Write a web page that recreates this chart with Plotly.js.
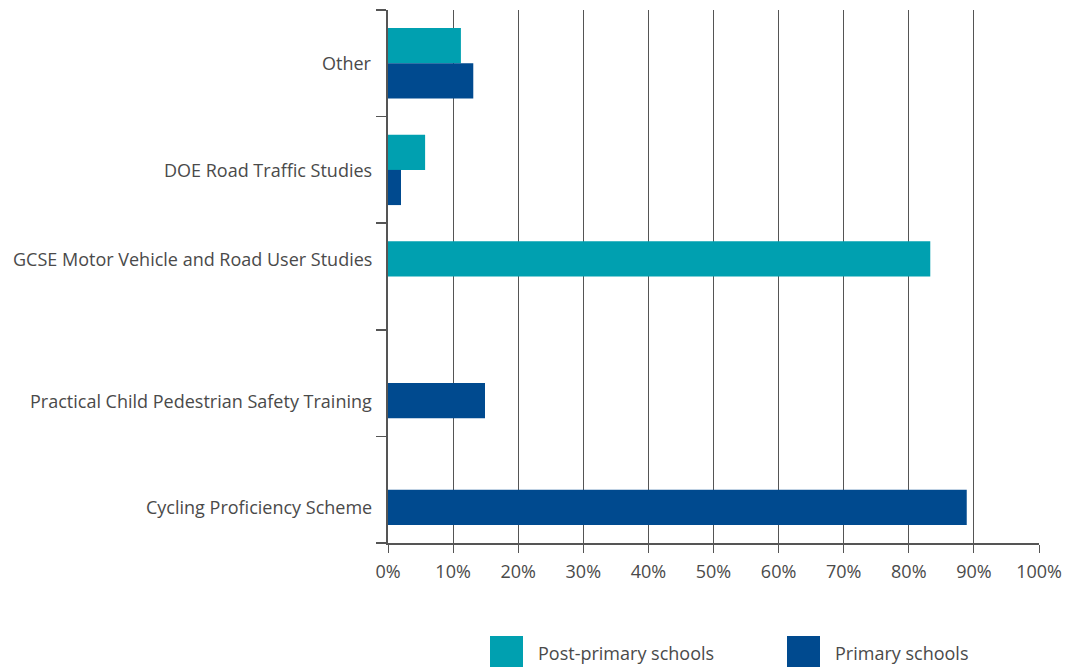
<!DOCTYPE html>
<html>
<head>
<meta charset="utf-8">
<script src="https://cdn.plot.ly/plotly-3.0.1.min.js"></script>
<style>html,body{margin:0;padding:0;background:#fff;}#chart{width:1070px;height:667px;}</style>
</head>
<body>
<div id="chart"></div>
<script>
// Categories bottom to top
const categories = ["Cycling Proficiency Scheme", "Practical Child Pedestrian Safety Training", "GCSE Motor Vehicle and Road User Studies", "DOE Road Traffic Studies", "Other"];
const postPrimary = [null, null, 83.3, 5.7, 11.2];
const primary = [88.9, 14.9, null, 2.0, 13.1];
const labelOffsets = [-0.165, -0.165, 0.165, 0, 0];
const xTickVals = [0,10,20,30,40,50,60,70,80,90,100];
const xTickText = xTickVals.map(v => v + "%");
const seriesNames = ["Post-primary schools", "Primary schools"];
const colors = ["#00A0B0", "#004A8F"];

const idx = categories.map((c, i) => i);
const bw = 0.33;
const traces = [
  {type: "bar", orientation: "h", name: seriesNames[0], x: postPrimary, y: idx, width: bw, offset: 0, marker: {color: colors[0]}, showlegend: false, hoverinfo: "x"},
  {type: "bar", orientation: "h", name: seriesNames[1], x: primary, y: idx, width: bw, offset: -bw, marker: {color: colors[1]}, showlegend: false, hoverinfo: "x"}
];

const font = {family: "Open Sans, Noto Sans, sans-serif", size: 18, color: "#4a4a4a"};
const annotations = categories.map((c, i) => ({
  xref: "paper", yref: "y", x: 0, y: i + labelOffsets[i], text: c, showarrow: false,
  xanchor: "right", yanchor: "middle", xshift: -14, font: font
}));
// legend
const legX = [490, 787];
const shapes = [];
seriesNames.forEach((n, k) => {
  shapes.push({type: "rect", xref: "paper", yref: "paper",
    x0: (legX[k] - 388) / 651, x1: (legX[k] + 33 - 388) / 651,
    y0: -(636 - 543) / 533, y1: -(668 - 543) / 533,
    fillcolor: colors[k], line: {width: 0}});
  annotations.push({xref: "paper", yref: "paper", x: (legX[k] + 46 - 388) / 651, y: -(653 - 543) / 533,
    text: n, showarrow: false, xanchor: "left", yanchor: "middle", font: font});
});

const layout = {
  width: 1070, height: 667,
  margin: {l: 388, r: 31, t: 10, b: 124},
  paper_bgcolor: "#fff", plot_bgcolor: "#fff",
  barmode: "overlay",
  font: font,
  xaxis: {range: [0, 100], tickvals: xTickVals, ticktext: xTickText, showgrid: true, gridcolor: "#555", gridwidth: 1,
    zeroline: false, showline: true, linecolor: "#555", linewidth: 2, ticks: "outside", ticklen: 8, tickcolor: "#555",
    ticklabelstandoff: 3, tickfont: font, fixedrange: true},
  yaxis: {range: [-0.5, 4.5], tickvals: [-0.5, 0.5, 1.5, 2.5, 3.5, 4.5], ticktext: ["", "", "", "", "", ""],
    showgrid: false, zeroline: false, showline: true, linecolor: "#555", linewidth: 2, ticks: "outside", ticklen: 10,
    tickcolor: "#555", tickwidth: 1.5, fixedrange: true},
  annotations: annotations,
  shapes: shapes
};
Plotly.newPlot("chart", traces, layout, {displayModeBar: false, staticPlot: true});
</script>
</body>
</html>
